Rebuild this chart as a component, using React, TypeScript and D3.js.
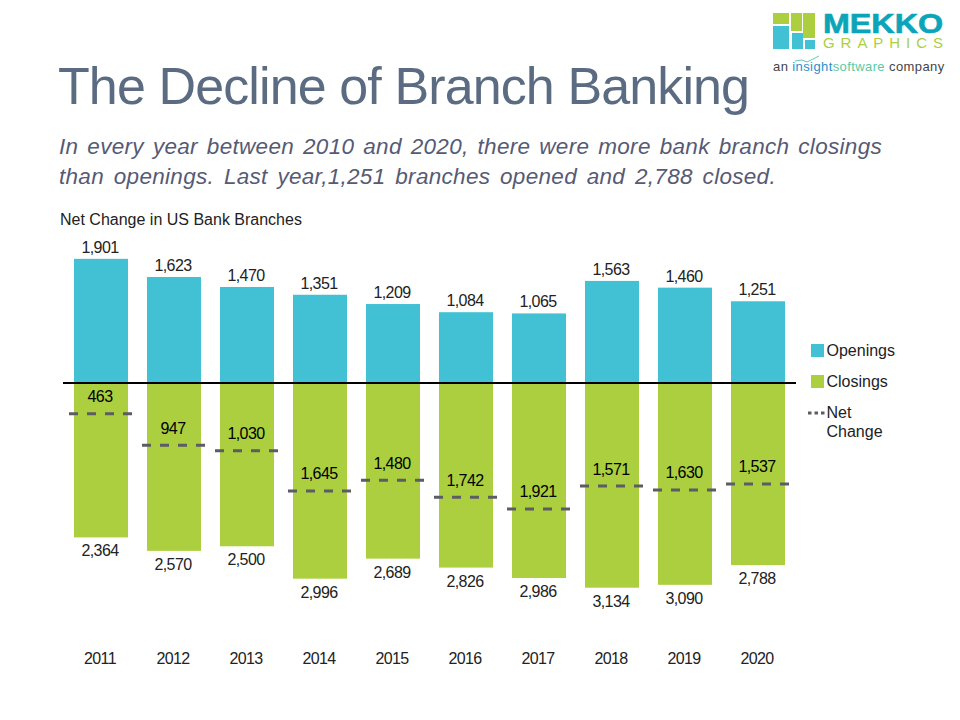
import { useEffect, useRef } from "react";
import * as d3 from "d3";

const YEARS = ["2011", "2012", "2013", "2014", "2015", "2016", "2017", "2018", "2019", "2020"];
const OPENINGS = [1901, 1623, 1470, 1351, 1209, 1084, 1065, 1563, 1460, 1251];
const CLOSINGS = [2364, 2570, 2500, 2996, 2689, 2826, 2986, 3134, 3090, 2788];
const NET_CHANGE = [463, 947, 1030, 1645, 1480, 1742, 1921, 1571, 1630, 1537];
const SUBTITLE = [
  "In every year between 2010 and 2020, there were more bank branch closings",
  "than openings. Last year,1,251 branches opened and 2,788 closed.",
];

const TEAL = "#41c1d3";
const GREEN = "#abcf3f";
const DASH = "#5c5c64";
const SLATE = "#5b6b82";
const PURPLE = "#565a75";
const FONT = "'Liberation Sans', Arial, sans-serif";
const fmt = d3.format(",");

export default function App() {
  const ref = useRef<SVGSVGElement | null>(null);

  useEffect(() => {
    if (!ref.current) {
      return;
    }
    const svg = d3.select(ref.current);
    svg.selectAll("*").remove();
    svg.attr("font-family", FONT);

    const x = d3
      .scaleBand<string>()
      .domain(YEARS)
      .range([64.5, 794.5])
      .paddingInner(0.26)
      .paddingOuter(0.13);
    const y = d3.scaleLinear().domain([0, 3134]).range([383, 587.7]);

    const rows = YEARS.map((year, i) => ({
      year,
      open: OPENINGS[i],
      close: CLOSINGS[i],
      net: NET_CHANGE[i],
    }));
    const cx = (d: { year: string }) => (x(d.year) ?? 0) + x.bandwidth() / 2;

    // header
    svg
      .append("text")
      .text("The Decline of Branch Banking")
      .attr("x", 58)
      .attr("y", 104)
      .attr("font-size", 52)
      .attr("fill", SLATE)
      .attr("textLength", 692)
      .attr("lengthAdjust", "spacing");

    // subtitle is justified, so stretch the word gaps to fit
    const subWidths = [823, 717];
    svg
      .selectAll("text.sub")
      .data(SUBTITLE)
      .enter()
      .append("text")
      .attr("class", "sub")
      .text((d) => d)
      .attr("x", 59)
      .attr("y", (_, i) => 154 + i * 29.5)
      .attr("font-size", 22.5)
      .attr("letter-spacing", 0.3)
      .attr("font-style", "italic")
      .attr("fill", PURPLE)
      .each(function (d, i) {
        const natural = this.getComputedTextLength();
        const gaps = d.split(" ").length - 1;
        d3.select(this).attr("word-spacing", (subWidths[i] - natural) / gaps);
      });

    svg
      .append("text")
      .text("Net Change in US Bank Branches")
      .attr("x", 60)
      .attr("y", 225)
      .attr("font-size", 16)
      .attr("fill", "#222");

    // bars
    svg
      .append("g")
      .selectAll("rect")
      .data(rows)
      .enter()
      .append("rect")
      .attr("x", (d) => x(d.year) ?? 0)
      .attr("width", x.bandwidth())
      .attr("y", (d) => y(0) - (y(d.open) - y(0)))
      .attr("height", (d) => y(d.open) - y(0))
      .attr("fill", TEAL);

    svg
      .append("g")
      .selectAll("rect")
      .data(rows)
      .enter()
      .append("rect")
      .attr("x", (d) => x(d.year) ?? 0)
      .attr("width", x.bandwidth())
      .attr("y", y(0))
      .attr("height", (d) => y(d.close) - y(0))
      .attr("fill", GREEN);

    svg
      .append("line")
      .attr("x1", 63)
      .attr("x2", 796)
      .attr("y1", y(0))
      .attr("y2", y(0))
      .attr("stroke", "#000")
      .attr("stroke-width", 2);

    // net change dashes
    svg
      .append("g")
      .selectAll("line")
      .data(rows)
      .enter()
      .append("line")
      .attr("x1", (d) => cx(d) - 32)
      .attr("x2", (d) => cx(d) + 32)
      .attr("y1", (d) => y(d.net) + 0.5)
      .attr("y2", (d) => y(d.net) + 0.5)
      .attr("stroke", DASH)
      .attr("stroke-width", 3)
      .attr("stroke-dasharray", "9 9");

    const labels = svg
      .append("g")
      .attr("font-size", 16)
      .attr("letter-spacing", -0.6)
      .attr("text-anchor", "middle")
      .attr("fill", "#222");

    labels
      .selectAll("text.open")
      .data(rows)
      .enter()
      .append("text")
      .text((d) => fmt(d.open))
      .attr("x", (d) => cx(d) - 1)
      .attr("y", (d) => y(0) - (y(d.open) - y(0)) - 6);

    labels
      .selectAll("text.close")
      .data(rows)
      .enter()
      .append("text")
      .text((d) => fmt(d.close))
      .attr("x", (d) => cx(d) - 1)
      .attr("y", (d) => y(d.close) + 19);

    labels
      .selectAll("text.net")
      .data(rows)
      .enter()
      .append("text")
      .text((d) => fmt(d.net))
      .attr("x", (d) => cx(d) - 1)
      .attr("y", (d) => y(d.net) - 11)
      .attr("fill", "#000");

    labels
      .selectAll("text.year")
      .data(rows)
      .enter()
      .append("text")
      .text((d) => d.year)
      .attr("x", (d) => cx(d) - 1)
      .attr("y", 664);

    // legend
    const legend = svg.append("g").attr("font-size", 16).attr("fill", "#222");
    legend.append("rect").attr("x", 811).attr("y", 344).attr("width", 13).attr("height", 13).attr("fill", TEAL);
    legend.append("text").text("Openings").attr("x", 826.5).attr("y", 356);
    legend.append("rect").attr("x", 811).attr("y", 375).attr("width", 13).attr("height", 13).attr("fill", GREEN);
    legend.append("text").text("Closings").attr("x", 826.5).attr("y", 387);
    legend
      .append("line")
      .attr("x1", 808)
      .attr("x2", 825)
      .attr("y1", 413)
      .attr("y2", 413)
      .attr("stroke", DASH)
      .attr("stroke-width", 3)
      .attr("stroke-dasharray", "3.5 3");
    legend.append("text").text("Net").attr("x", 826.5).attr("y", 418);
    legend.append("text").text("Change").attr("x", 826.5).attr("y", 437);

    // logo
    const logo = svg.append("g");
    const tiles: [number, number, number, number, string][] = [
      [773, 13, 16, 11, GREEN],
      [791, 13, 11, 18, GREEN],
      [803, 13, 12, 25, GREEN],
      [773, 26, 16, 23, TEAL],
      [792, 33, 11, 16, TEAL],
      [805, 40, 10, 9, TEAL],
    ];
    logo
      .selectAll("rect")
      .data(tiles)
      .enter()
      .append("rect")
      .attr("x", (d) => d[0])
      .attr("y", (d) => d[1])
      .attr("width", (d) => d[2])
      .attr("height", (d) => d[3])
      .attr("fill", (d) => d[4]);
    logo
      .append("text")
      .text("MEKKO")
      .attr("x", 823)
      .attr("y", 33)
      .attr("font-size", 27)
      .attr("font-weight", 700)
      .attr("fill", "#0aa5b8")
      .attr("stroke", "#0aa5b8")
      .attr("stroke-width", 0.6)
      .attr("textLength", 120)
      .attr("lengthAdjust", "spacingAndGlyphs");
    logo
      .append("text")
      .text("GRAPHICS")
      .attr("x", 823)
      .attr("y", 48)
      .attr("font-size", 15)
      .attr("fill", GREEN)
      .attr("textLength", 120)
      .attr("lengthAdjust", "spacing");
    logo
      .append("path")
      .attr("d", "M795 61 L802 60 L807 62 L819 56")
      .attr("fill", "none")
      .attr("stroke", "#3fb8a8")
      .attr("stroke-width", 0.8);
    const tag = logo
      .append("text")
      .attr("x", 773)
      .attr("y", 71)
      .attr("font-size", 13)
      .attr("letter-spacing", 0.4)
      .attr("fill", "#444");
    tag.append("tspan").text("an ");
    tag.append("tspan").text("insight").attr("fill", "#2a8fd0");
    tag.append("tspan").text("software").attr("fill", "#5cc9a0");
    tag.append("tspan").text(" company");
  }, []);

  return (
    <svg
      ref={ref}
      width={960}
      height={720}
      style={{ position: "absolute", left: 0, top: 0, background: "#fff" }}
    />
  );
}
